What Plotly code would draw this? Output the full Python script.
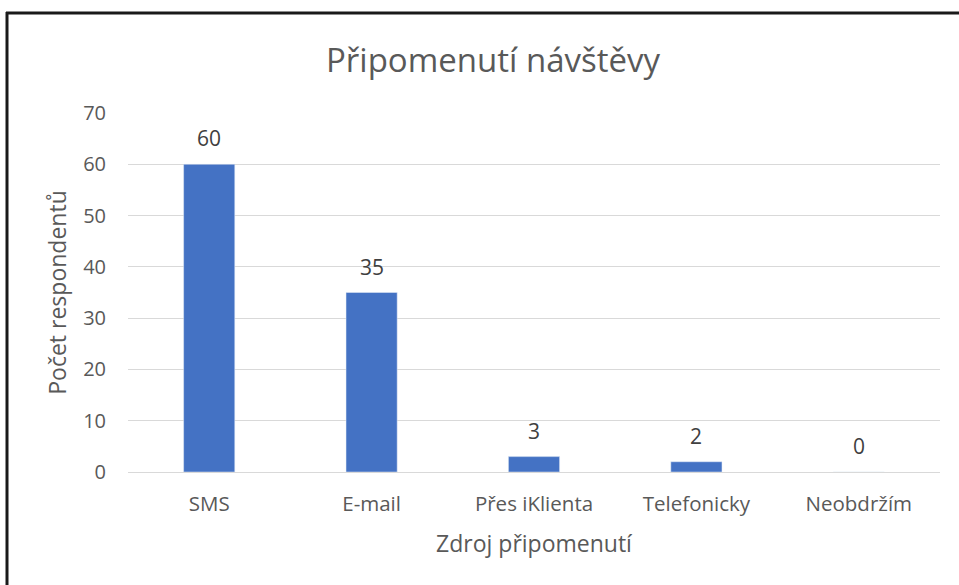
import plotly.graph_objects as go

categories = ["SMS", "E-mail", "Přes iKlienta", "Telefonicky", "Neobdržím"]
counts = [60, 35, 3, 2, 0]
y_ticks = [0, 10, 20, 30, 40, 50, 60, 70]

BAR_COLOR = "#4472C4"
FONT = "'Open Sans', sans-serif"
TEXT = "#595959"

# plot area in pixels: x 128..940, y 113..472
L, R, T, B = 128, 19, 113, 113
PW, PH = 959 - L - R, 585 - T - B


def px_x(p):
    return (p - L) / PW


def px_y(p):
    return (585 - B - p) / PH


fig = go.Figure()
fig.add_trace(go.Bar(
    x=categories,
    y=counts,
    marker_color=BAR_COLOR,
    width=0.315,
    hoverinfo="x+y",
))

# value labels above bars
for cat, val in zip(categories, counts):
    fig.add_annotation(
        x=cat, y=val, text=str(val), showarrow=False,
        yanchor="bottom", yshift=10,
        font=dict(size=21, color="#404040", family=FONT),
    )

fig.update_layout(
    width=959,
    height=585,
    margin=dict(l=L, r=R, t=T, b=B),
    paper_bgcolor="white",
    plot_bgcolor="white",
    font=dict(family=FONT, color=TEXT),
    showlegend=False,
    title=dict(
        text="Připomenutí návštěvy",
        x=px_x(493), xref="paper", xanchor="center",
        y=1 - 60 / 585, yanchor="middle",
        font=dict(size=33, color=TEXT, family=FONT),
    ),
    xaxis=dict(
        title=dict(text="Zdroj připomenutí", font=dict(size=23, color=TEXT), standoff=20),
        tickfont=dict(size=20.5, color=TEXT),
        showgrid=False,
        showline=False,
        ticks="",
        ticklabelstandoff=17,
    ),
    yaxis=dict(
        title=dict(text="Počet respondentů", font=dict(size=23, color=TEXT), standoff=10),
        range=[0, 70],
        tickvals=y_ticks,
        tickfont=dict(size=20, color=TEXT),
        gridcolor="#D9D9D9",
        gridwidth=1.3,
        zeroline=True,
        zerolinecolor="#D9D9D9",
        zerolinewidth=1.3,
        ticks="",
        ticklabelstandoff=21,
    ),
    shapes=[
        dict(type="line", xref="paper", yref="paper",
             x0=px_x(6), x1=px_x(962), y0=px_y(13), y1=px_y(13),
             line=dict(color="#1a1a1a", width=3)),
        dict(type="line", xref="paper", yref="paper",
             x0=px_x(7), x1=px_x(7), y0=px_y(12), y1=px_y(590),
             line=dict(color="#1a1a1a", width=3)),
    ],
)

fig.write_html(
    "out.html",
    config={"displayModeBar": False},
    post_script="document.body.style.margin='0';",
)
